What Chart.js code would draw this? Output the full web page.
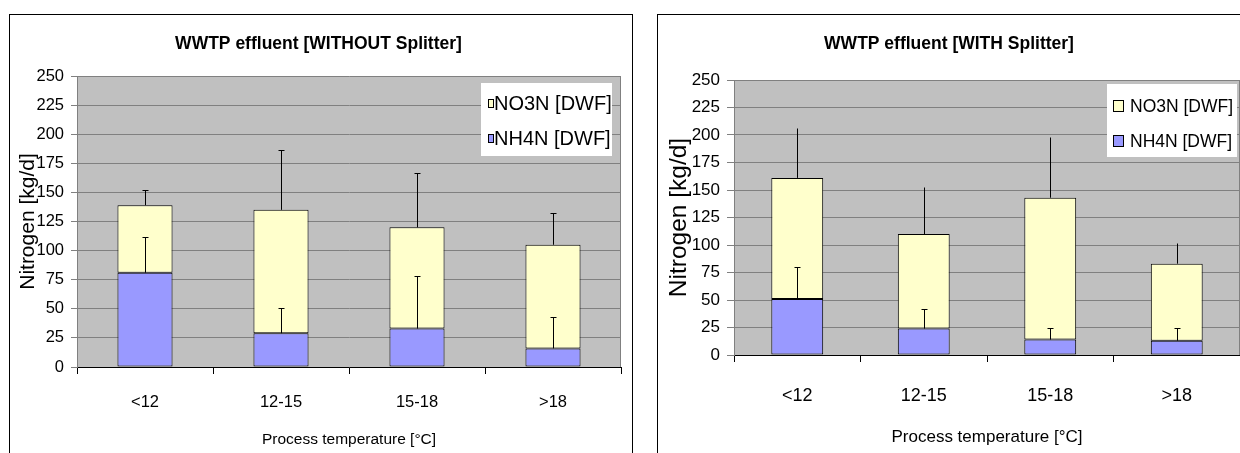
<!DOCTYPE html>
<html>
<head>
<meta charset="utf-8">
<script src="https://cdn.jsdelivr.net/npm/chart.js@4"></script>
<style>
  body { margin: 0; background: #fff; width: 1240px; height: 453px; overflow: hidden; position: relative; }
  .box { position: absolute; top: 14px; border: 1px solid #000; border-bottom: none; background: #fff; }
  canvas { display: block; }
</style>
</head>
<body>
<div class="box" style="left:9px;width:622px;height:439px"><canvas id="chartWithout" width="622" height="438"></canvas></div>
<div class="box" style="left:657px;width:583px;height:439px"><canvas id="chartWith" width="583" height="438"></canvas></div>
<script>
// values
const categories = ['<12', '12-15', '15-18', '>18'];

const nh4Without = [81, 29, 33, 16];
const no3Without = [58, 106, 87, 89];
const nh4ErrWithout = [31, 22, 45, 27];
const totalErrWithout = [13, 51, 47, 27];

const nh4With = [51, 24, 14, 13];
const no3With = [110, 86, 129, 70];
const nh4ErrWith = [29, 18, 11, 11.5];
const totalErrWith = [45, 43, 55, 19];

const yMax = 250;
const yStep = 25;

const FONT = "'Liberation Sans', Arial, sans-serif";

// grey plot background + right edge line
const plotBg = {
  id: 'plotBg',
  beforeDraw(chart) {
    const { ctx, chartArea: a } = chart;
    ctx.save();
    ctx.fillStyle = '#C0C0C0';
    ctx.fillRect(a.left, a.top, a.width, a.height);
    ctx.strokeStyle = '#808080';
    ctx.lineWidth = 1;
    ctx.beginPath();
    ctx.moveTo(a.right - 0.5, a.top);
    ctx.lineTo(a.right - 0.5, a.bottom);
    ctx.stroke();
    ctx.restore();
  }
};

// one-sided (upper) error bars on top of each stacked segment
const errorBars = {
  id: 'errorBars',
  afterDatasetsDraw(chart) {
    const { ctx, scales: { y } } = chart;
    const sets = chart.data.datasets;
    ctx.save();
    ctx.strokeStyle = '#000';
    ctx.lineWidth = 1;
    sets.forEach((ds, i) => {
      if (!ds.errorPlus) return;
      chart.getDatasetMeta(i).data.forEach((bar, j) => {
        let top = 0;
        for (let k = 0; k <= i; k++) top += sets[k].data[j];
        const x = Math.round(bar.x) + 0.5;
        const y0 = y.getPixelForValue(top);
        const y1 = Math.round(y.getPixelForValue(top + ds.errorPlus[j])) + 0.5;
        ctx.beginPath();
        ctx.moveTo(x, y0);
        ctx.lineTo(x, y1);
        if (ds.capWidth) {
          ctx.moveTo(x - ds.capWidth / 2, y1);
          ctx.lineTo(x + ds.capWidth / 2, y1);
        }
        ctx.stroke();
      });
    });
    ctx.restore();
  }
};

// legend with white box inside the plot, top right
const insetLegend = {
  id: 'insetLegend',
  afterDatasetsDraw(chart, args, o) {
    const { ctx, chartArea: a } = chart;
    const x = a.right - o.right - o.width;
    const y0 = a.top + o.top;
    ctx.save();
    ctx.fillStyle = '#fff';
    ctx.fillRect(x, y0, o.width, o.height);
    ctx.font = o.font;
    ctx.textBaseline = 'middle';
    chart.data.datasets.slice().reverse().forEach((ds, k) => {
      const cy = Math.round(y0 + o.firstRow + k * o.rowGap);
      const bx = Math.round(x + o.boxX);
      const by = Math.round(cy - o.boxH / 2);
      ctx.fillStyle = ds.backgroundColor;
      ctx.fillRect(bx, by, o.boxW, o.boxH);
      ctx.strokeStyle = '#000';
      ctx.lineWidth = 1;
      ctx.strokeRect(bx + 0.5, by + 0.5, o.boxW - 1, o.boxH - 1);
      ctx.fillStyle = '#000';
      ctx.fillText(ds.label, x + o.textX, cy + 1);
    });
    ctx.restore();
  }
};

function buildChart(id, title, nh4, no3, nh4Err, totalErr, g) {
  return new Chart(document.getElementById(id), {
    type: 'bar',
    data: {
      labels: categories,
      datasets: [
        {
          label: 'NH4N [DWF]', data: nh4, backgroundColor: '#9999FF',
          borderColor: '#000', borderWidth: 1, borderSkipped: false,
          errorPlus: nh4Err, capWidth: 6
        },
        {
          label: 'NO3N [DWF]', data: no3, backgroundColor: '#FFFFCC',
          borderColor: '#000', borderWidth: 1, borderSkipped: false,
          errorPlus: totalErr, capWidth: g.totalCap
        }
      ]
    },
    options: {
      responsive: false,
      animation: false,
      categoryPercentage: 1,
      barPercentage: g.barPct,
      layout: { padding: { left: g.padLeft, right: g.padRight, top: 0, bottom: 0 } },
      plugins: {
        legend: { display: false },
        tooltip: { enabled: false },
        title: {
          display: true, text: title, color: '#000',
          font: { family: FONT, size: g.titleSize, weight: 'bold' },
          padding: { top: g.titleTop, bottom: g.titleBottom }
        },
        insetLegend: g.legend
      },
      scales: {
        x: {
          stacked: true,
          grid: { offset: true, drawOnChartArea: false, tickLength: 7, color: '#000' },
          border: { color: '#000' },
          ticks: { color: '#000', font: { family: FONT, size: g.xTickSize }, padding: g.xTickPad, maxRotation: 0 },
          title: {
            display: true, text: 'Process temperature [°C]', color: '#000',
            font: { family: FONT, size: g.xTitleSize },
            padding: { top: 0, bottom: g.xTitlePad }
          },
          afterFit(s) { s.height = g.xHeight; }
        },
        y: {
          stacked: true, min: 0, max: yMax,
          grid: { color: '#808080', tickLength: g.yTickLen },
          border: { color: '#808080' },
          ticks: { stepSize: yStep, color: '#000', font: { family: FONT, size: g.yTickSize }, padding: g.yTickPad },
          title: {
            display: true, text: 'Nitrogen [kg/d]', color: '#000',
            font: { family: FONT, size: g.yTitleSize },
            padding: { top: g.yTitlePad, bottom: 0 }
          },
          afterFit(s) { s.width = g.yWidth; }
        }
      }
    },
    plugins: [plotBg, errorBars, insetLegend]
  });
}

buildChart('chartWithout', 'WWTP effluent [WITHOUT Splitter]',
  nh4Without, no3Without, nh4ErrWithout, totalErrWithout, {
    barPct: 0.405, padLeft: 6, padRight: 11, yWidth: 61, xHeight: 86,
    titleSize: 17.5, titleTop: 18.5, titleBottom: 21.5,
    yTickSize: 16.5, yTickPad: 7, yTickLen: 6,
    yTitleSize: 21, yTitlePad: 0,
    xTickSize: 16.5, xTickPad: 18.1,
    xTitleSize: 15.5, xTitlePad: 3.7,
    totalCap: 6,
    legend: { width: 131, height: 73, right: 9, top: 7, boxX: 7, boxW: 6, boxH: 9, textX: 13, firstRow: 20, rowGap: 35, font: "20px " + FONT }
  });

buildChart('chartWith', 'WWTP effluent [WITH Splitter]',
  nh4With, no3With, nh4ErrWith, totalErrWith, {
    barPct: 0.41, padLeft: 0, padRight: 1, yWidth: 76, xHeight: 98,
    titleSize: 17.5, titleTop: 18.5, titleBottom: 25.5,
    yTickSize: 17, yTickPad: 7, yTickLen: 7,
    yTitleSize: 24.5, yTitlePad: 6.3,
    xTickSize: 18, xTickPad: 23.2,
    xTitleSize: 17, xTitlePad: 5.8,
    totalCap: 0,
    legend: { width: 130, height: 73, right: 3, top: 4, boxX: 6, boxW: 11, boxH: 12, textX: 23, firstRow: 22, rowGap: 35, font: "17.5px " + FONT }
  });
</script>
</body>
</html>
